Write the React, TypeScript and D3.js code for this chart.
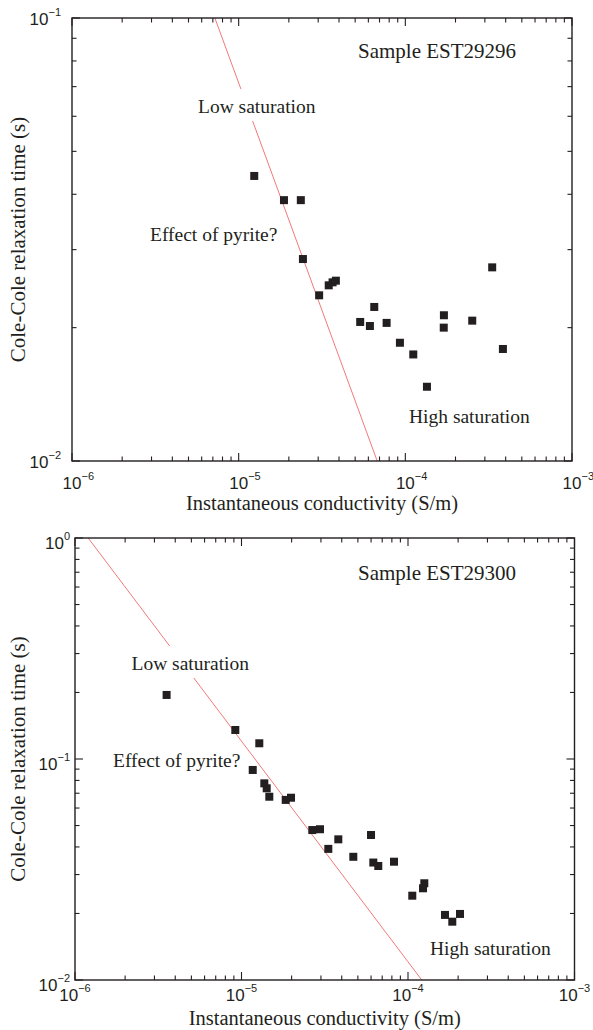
import React from "react";
import * as d3 from "d3";

// ---- Data ----
const xTickExps = [-6, -5, -4, -3];
const topYTickExps = [-1, -2];
const botYTickExps = [0, -1, -2];

// Sample EST29296
const topSigma = [1.24e-5, 1.87e-5, 2.36e-5, 2.43e-5, 3.04e-5, 3.47e-5, 3.66e-5, 3.83e-5, 5.36e-5, 6.13e-5, 6.51e-5, 7.72e-5, 9.28e-5, 1.116e-4, 1.348e-4, 1.704e-4, 1.7e-4, 2.52e-4, 3.32e-4, 3.85e-4];
const topTau = [0.044, 0.0388, 0.0388, 0.02857, 0.02366, 0.02492, 0.02531, 0.02553, 0.0206, 0.02017, 0.02227, 0.0205, 0.01849, 0.0174, 0.01471, 0.02133, 0.02, 0.02074, 0.02736, 0.0179];
const topLineSigma = [7.2e-6, 6.78e-5];
const topLineTau = [0.1, 0.01];

// Sample EST29300
const botSigma = [3.55e-6, 9.18e-6, 1.279e-5, 1.168e-5, 1.371e-5, 1.417e-5, 1.469e-5, 1.843e-5, 1.983e-5, 2.662e-5, 2.961e-5, 3.322e-5, 3.814e-5, 4.694e-5, 5.996e-5, 6.19e-5, 6.63e-5, 8.24e-5, 1.061e-4, 1.231e-4, 1.253e-4, 1.668e-4, 2.053e-4, 1.845e-4];
const botTau = [0.1949, 0.1353, 0.1178, 0.0892, 0.0776, 0.0737, 0.0675, 0.0653, 0.0668, 0.0477, 0.0481, 0.0392, 0.0433, 0.0361, 0.0453, 0.034, 0.0328, 0.0343, 0.02407, 0.026, 0.0274, 0.0197, 0.0199, 0.01836];
const botLineSigma = [1.2e-6, 1.209e-4];
const botLineTau = [1, 0.01];

const SERIF = "'Liberation Serif', 'Times New Roman', serif";
const SANS = "'Liberation Sans', Arial, sans-serif";
const INK = "#231f20";

type Ann = { text: string; x: number; y: number; size: number; bg?: boolean };

type PanelProps = {
  left: number; right: number; top: number; bottom: number;
  yDomain: [number, number];
  yTickExps: number[];
  sigma: number[]; tau: number[];
  lineSigma: number[]; lineTau: number[];
  xLabelCenteredOn10: boolean;
  xLabelBaseline: number;
  yLabelOffset: number; yLabelRight: number;
  axisLabelBaseline: number;
  anns: Ann[];
  id: string;
};

const isMajor = (t: number) => Math.abs(Math.log10(t) - Math.round(Math.log10(t))) < 1e-9;
const sup = (e: number) => (e < 0 ? "\u2212" + Math.abs(e) : String(e));

function Panel(p: PanelProps) {
  const x = d3.scaleLog().domain([1e-6, 1e-3]).range([p.left, p.right]);
  const y = d3.scaleLog().domain(p.yDomain).range([p.bottom, p.top]);
  const xt = x.ticks();
  const yt = y.ticks();
  const MAJ = 8, MIN = 4.5;
  const line = d3.line<number>().x((i) => x(p.lineSigma[i])).y((i) => y(p.lineTau[i]));
  const sq = 8;
  const w10 = 0.556 * 2 * 17;
  return (
    <g>
      <defs>
        <clipPath id={p.id}>
          <rect x={p.left} y={p.top} width={p.right - p.left} height={p.bottom - p.top} />
        </clipPath>
      </defs>
      <path d={line(p.lineSigma.map((_, i) => i)) || ""} stroke="#f06a6a" strokeWidth={0.9} fill="none" clipPath={`url(#${p.id})`} />
      {p.anns.map((a, i) =>
        a.bg ? (
          <rect key={"bg" + i} x={a.x - 6} y={a.y - 24} width={a.text.length * a.size * 0.45 + 12} height={32} fill="white" />
        ) : null
      )}
      {p.anns.map((a, i) => (
        <text key={"a" + i} x={a.x} y={a.y} fontFamily={SERIF} fontSize={a.size} fill={INK}>{a.text}</text>
      ))}
      {p.sigma.map((s, i) => (
        <rect key={"m" + i} x={x(s) - sq / 2} y={y(p.tau[i]) - sq / 2} width={sq} height={sq} fill={INK} />
      ))}
      {xt.map((t, i) => {
        const L = isMajor(t) ? MAJ : MIN;
        const px = x(t);
        return (
          <g key={"xt" + i} stroke={INK} strokeWidth={1.1}>
            <line x1={px} x2={px} y1={p.bottom} y2={p.bottom - L} />
            <line x1={px} x2={px} y1={p.top} y2={p.top + L} />
          </g>
        );
      })}
      {yt.map((t, i) => {
        const L = isMajor(t) ? MAJ : MIN;
        const py = y(t);
        return (
          <g key={"yt" + i} stroke={INK} strokeWidth={1.1}>
            <line x1={p.left} x2={p.left + L} y1={py} y2={py} />
            <line x1={p.right} x2={p.right - L} y1={py} y2={py} />
          </g>
        );
      })}
      <rect x={p.left} y={p.top} width={p.right - p.left} height={p.bottom - p.top} fill="none" stroke={INK} strokeWidth={1.4} />
      {xTickExps.map((e) => (
        <text key={"xl" + e}
          x={p.xLabelCenteredOn10 ? x(Math.pow(10, e)) - w10 / 2 : x(Math.pow(10, e))}
          y={p.xLabelBaseline}
          textAnchor={p.xLabelCenteredOn10 ? "start" : "middle"}
          fontFamily={SANS} fontSize={17} fill={INK}>
          <tspan>10</tspan>
          <tspan dy={-9} fontSize={11}>{sup(e)}</tspan>
        </text>
      ))}
      {p.yTickExps.map((e) => (
        <text key={"yl" + e} x={p.yLabelRight} y={y(Math.pow(10, e)) + p.yLabelOffset}
          textAnchor="end" fontFamily={SANS} fontSize={17} fill={INK}>
          <tspan>10</tspan>
          <tspan dy={-9} fontSize={11}>{sup(e)}</tspan>
        </text>
      ))}
      <text x={(p.left + p.right) / 2} y={p.axisLabelBaseline} textAnchor="middle" fontFamily={SERIF} fontSize={20.5} fill={INK}>
        Instantaneous conductivity (S/m)
      </text>
      <text transform={`translate(25,${(p.top + p.bottom) / 2}) rotate(-90)`} textAnchor="middle" fontFamily={SERIF} fontSize={21} fill={INK}>
        Cole-Cole relaxation time (s)
      </text>
    </g>
  );
}

export default function App() {
  return (
    <svg width={593} height={1030} style={{ position: "absolute", left: 0, top: 0, background: "white" }}>
      <rect x={0} y={0} width={593} height={1030} fill="white" />
      <Panel id="c1" left={72} right={572} top={18} bottom={461}
        yDomain={[0.01, 0.1]} yTickExps={topYTickExps}
        sigma={topSigma} tau={topTau} lineSigma={topLineSigma} lineTau={topLineTau}
        xLabelCenteredOn10={true} xLabelBaseline={489}
        yLabelOffset={7} yLabelRight={61}
        axisLabelBaseline={510}
        anns={[
          { text: "Sample EST29296", x: 358, y: 58, size: 21 },
          { text: "Low saturation", x: 198, y: 113, size: 19.5, bg: true },
          { text: "Effect of pyrite?", x: 150, y: 240.5, size: 19.5 },
          { text: "High saturation", x: 409, y: 423, size: 19.5 },
        ]}
      />
      <Panel id="c2" left={75} right={574.5} top={538} bottom={980}
        yDomain={[0.01, 1]} yTickExps={botYTickExps}
        sigma={botSigma} tau={botTau} lineSigma={botLineSigma} lineTau={botLineTau}
        xLabelCenteredOn10={false} xLabelBaseline={1001}
        yLabelOffset={11} yLabelRight={70}
        axisLabelBaseline={1025}
        anns={[
          { text: "Sample EST29300", x: 358, y: 580, size: 21 },
          { text: "Low saturation", x: 131.5, y: 670, size: 19.5, bg: true },
          { text: "Effect of pyrite?", x: 113, y: 767, size: 19.5 },
          { text: "High saturation", x: 430, y: 955, size: 19.5 },
        ]}
      />
    </svg>
  );
}
